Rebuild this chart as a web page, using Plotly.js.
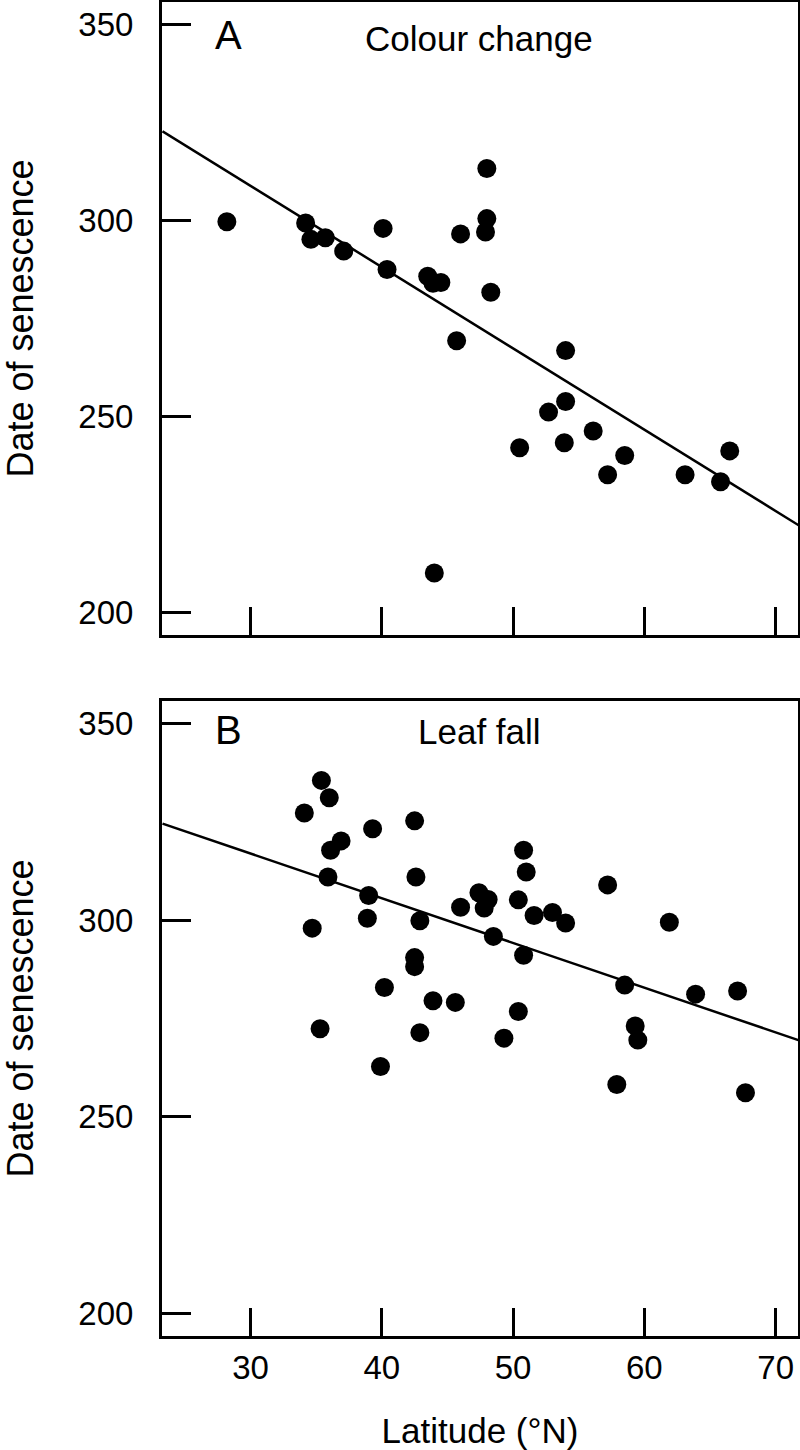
<!DOCTYPE html>
<html>
<head>
<meta charset="utf-8">
<script src="https://cdn.plot.ly/plotly-3.0.1.min.js"></script>
<style>html,body{margin:0;padding:0;background:#fff;}#chart{width:800px;height:1450px;}</style>
</head>
<body>
<div id="chart"></div>
<script>
// Panel A: colour change
const latA = [28.2, 34.2, 34.6, 35.7, 37.1, 40.1, 40.4, 43.5, 43.9, 44.5, 46.0, 48.0, 48.0, 47.9, 48.3, 45.7, 54.0, 54.0, 52.7, 56.1, 50.5, 53.9, 58.5, 57.2, 63.1, 65.8, 66.5, 44.0];
const dateA = [299.7, 299.4, 295.2, 295.6, 292.2, 298.0, 287.5, 285.8, 284.0, 284.2, 296.6, 313.3, 300.5, 297.1, 281.7, 269.3, 266.8, 253.8, 251.1, 246.3, 242.0, 243.3, 240.0, 235.1, 235.1, 233.3, 241.2, 210.0];
const fitLatA = [23.3, 71.8];
const fitDateA = [322.8, 222.1];

// Panel B: leaf fall
const latB = [35.4, 36.0, 34.1, 39.3, 42.5, 36.9, 36.1, 50.8, 51.0, 35.9, 42.6, 57.2, 39.0, 47.4, 48.1, 47.8, 46.0, 50.4, 51.6, 53.0, 54.0, 42.9, 38.9, 34.7, 61.9, 48.5, 50.8, 42.5, 42.5, 40.2, 58.5, 63.9, 67.1, 43.9, 45.6, 50.4, 35.3, 42.9, 59.3, 59.5, 49.3, 39.9, 57.9, 67.7];
const dateB = [335.6, 331.2, 327.3, 323.3, 325.3, 320.2, 317.8, 317.8, 312.3, 311.0, 311.0, 309.0, 306.3, 307.0, 305.3, 303.1, 303.3, 305.2, 301.2, 302.0, 299.3, 299.9, 300.5, 298.0, 299.5, 295.9, 291.1, 290.5, 288.2, 282.9, 283.5, 281.2, 282.0, 279.5, 279.1, 276.8, 272.4, 271.4, 273.1, 269.5, 270.0, 262.8, 258.2, 256.1];
const fitLatB = [23.3, 71.9];
const fitDateB = [324.6, 269.3];

const xTicks = [30, 40, 50, 60, 70];
const yTicks = [200, 250, 300, 350];
const panelLetters = ["A", "B"];
const panelTitles = ["Colour change", "Leaf fall"];
const xTitle = "Latitude (°N)";
const yTitle = "Date of senescence";

const FONT = "Liberation Sans, Arial, Helvetica, sans-serif";
const marker = {color: "#000", size: 19, line: {width: 0}};
const fitLine = {color: "#000", width: 2.5};

const traces = [
  {x: fitLatA, y: fitDateA, type: "scatter", mode: "lines", line: fitLine, xaxis: "x", yaxis: "y", hoverinfo: "skip"},
  {x: latA, y: dateA, type: "scatter", mode: "markers", marker: marker, xaxis: "x", yaxis: "y"},
  {x: fitLatB, y: fitDateB, type: "scatter", mode: "lines", line: fitLine, xaxis: "x2", yaxis: "y2", hoverinfo: "skip"},
  {x: latB, y: dateB, type: "scatter", mode: "markers", marker: marker, xaxis: "x2", yaxis: "y2"}
];

const xRange = [23.26, 71.7];
const yRange = [194.2, 355.8];

function xAxis(domainAnchor, showLabels, withTitle) {
  const ax = {
    anchor: domainAnchor, range: xRange, tickmode: "array", tickvals: xTicks,
    ticks: "inside", ticklen: 28, tickwidth: 3, tickcolor: "#000",
    showline: true, linewidth: 3, linecolor: "#000", mirror: true,
    showgrid: false, zeroline: false, showticklabels: showLabels,
    tickfont: {family: FONT, size: 33, color: "#000"}, ticklabelstandoff: 0
  };
  if (withTitle) ax.title = {text: xTitle, font: {family: FONT, size: 35, color: "#000"}, standoff: 42};
  return ax;
}
function yAxis(domain, anchor) {
  return {
    anchor: anchor, domain: domain, range: yRange, tickmode: "array", tickvals: yTicks,
    ticks: "inside", ticklen: 29, tickwidth: 3, tickcolor: "#000",
    showline: true, linewidth: 3, linecolor: "#000", mirror: true,
    showgrid: false, zeroline: false,
    tickfont: {family: FONT, size: 33, color: "#000"}, ticklabelstandoff: 19,
    title: {text: yTitle, font: {family: FONT, size: 36, color: "#000"}, standoff: 36}
  };
}

const layout = {
  width: 800, height: 1450,
  margin: {l: 162, r: 2, t: 2, b: 114},
  paper_bgcolor: "#fff", plot_bgcolor: "#fff",
  showlegend: false,
  font: {family: FONT, color: "#000"},
  xaxis: xAxis("y", false, false),
  yaxis: yAxis([0.5255, 1], "x"),
  xaxis2: xAxis("y2", true, true),
  yaxis2: yAxis([0, 0.476], "x2"),
  annotations: [
    {xref: "x domain", yref: "y domain", x: 0.104, y: 0.948, text: panelLetters[0], showarrow: false, xanchor: "center", yanchor: "middle", font: {family: FONT, size: 40, color: "#000"}},
    {xref: "x domain", yref: "y domain", x: 0.499, y: 0.942, text: panelTitles[0], showarrow: false, xanchor: "center", yanchor: "middle", font: {family: FONT, size: 35, color: "#000"}},
    {xref: "x2 domain", yref: "y2 domain", x: 0.104, y: 0.954, text: panelLetters[1], showarrow: false, xanchor: "center", yanchor: "middle", font: {family: FONT, size: 40, color: "#000"}},
    {xref: "x2 domain", yref: "y2 domain", x: 0.499, y: 0.952, text: panelTitles[1], showarrow: false, xanchor: "center", yanchor: "middle", font: {family: FONT, size: 35, color: "#000"}}
  ]
};

Plotly.newPlot("chart", traces, layout, {staticPlot: true, displayModeBar: false});
</script>
</body>
</html>
